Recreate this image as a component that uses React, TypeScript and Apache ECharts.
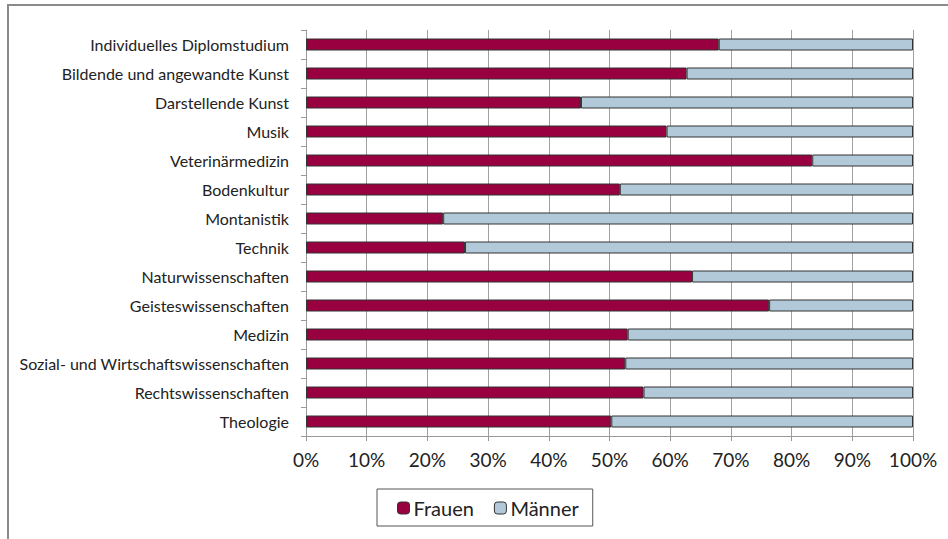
import React, { useEffect, useRef } from "react";
import * as echarts from "echarts";

const categories = [
  "Individuelles Diplomstudium",
  "Bildende und angewandte Kunst",
  "Darstellende Kunst",
  "Musik",
  "Veterinärmedizin",
  "Bodenkultur",
  "Montanistik",
  "Technik",
  "Naturwissenschaften",
  "Geisteswissenschaften",
  "Medizin",
  "Sozial- und Wirtschaftswissenschaften",
  "Rechtswissenschaften",
  "Theologie",
];

const frauen = [68.0, 62.7, 45.3, 59.4, 83.4, 51.7, 22.6, 26.2, 63.6, 76.3, 53.0, 52.6, 55.6, 50.3];
const maenner = frauen.map((v) => +(100 - v).toFixed(1));

const FONT = "Lato, 'Open Sans', sans-serif";

export default function App() {
  const ref = useRef<HTMLDivElement>(null);
  useEffect(() => {
    if (!ref.current) return;
    const chart = echarts.init(ref.current, undefined, { renderer: "svg" });
    chart.setOption({
      animation: false,
      backgroundColor: "#fff",
      textStyle: { fontFamily: FONT },
      graphic: [
        {
          type: "rect",
          shape: { x: 8, y: 5, width: 1000, height: 1000 },
          style: { fill: "none", stroke: "#8a8a8a", lineWidth: 2 },
          silent: true,
        },
      ],
      legend: {
        top: 489,
        left: 377,
        padding: [9, 14, 8, 20],
        itemWidth: 12,
        itemHeight: 12,
        itemGap: 20,
        borderColor: "#555",
        borderWidth: 1,
        textStyle: { fontSize: 20, color: "#222", fontFamily: FONT, padding: [0, 0, 0, -1] },
        data: [
          { name: "Frauen", itemStyle: { borderColor: "#333", borderWidth: 1 } },
          { name: "Männer", itemStyle: { borderColor: "#333", borderWidth: 1 } },
        ],
      },
      grid: { left: 306, right: 35, top: 30, height: 406, containLabel: false },
      xAxis: {
        type: "value",
        min: 0,
        max: 100,
        interval: 10,
        axisLine: { show: true, lineStyle: { color: "#999" } },
        axisTick: { show: true, length: 5, lineStyle: { color: "#999" } },
        splitLine: { show: true, lineStyle: { color: "#a0a0a0", width: 1 } },
        axisLabel: {
          formatter: "{value}%",
          fontSize: 19,
          color: "#222",
          margin: 14,
          fontFamily: FONT,
        },
      },
      yAxis: {
        type: "category",
        inverse: true,
        data: categories,
        axisLine: { show: true, lineStyle: { color: "#999" } },
        axisTick: { show: true, length: 5, lineStyle: { color: "#999" } },
        axisLabel: { fontSize: 16, color: "#222", margin: 17, fontFamily: FONT },
      },
      series: [
        {
          name: "Frauen",
          type: "bar",
          stack: "total",
          data: frauen,
          barWidth: 12,
          itemStyle: { color: "#99003f", borderColor: "#333", borderWidth: 1 },
        },
        {
          name: "Männer",
          type: "bar",
          stack: "total",
          data: maenner,
          barWidth: 12,
          itemStyle: { color: "#b2c9da", borderColor: "#333", borderWidth: 1 },
        },
      ],
    });
    return () => chart.dispose();
  }, []);
  return <div ref={ref} style={{ width: 948, height: 539, position: "absolute", left: 0, top: 0 }} />;
}
